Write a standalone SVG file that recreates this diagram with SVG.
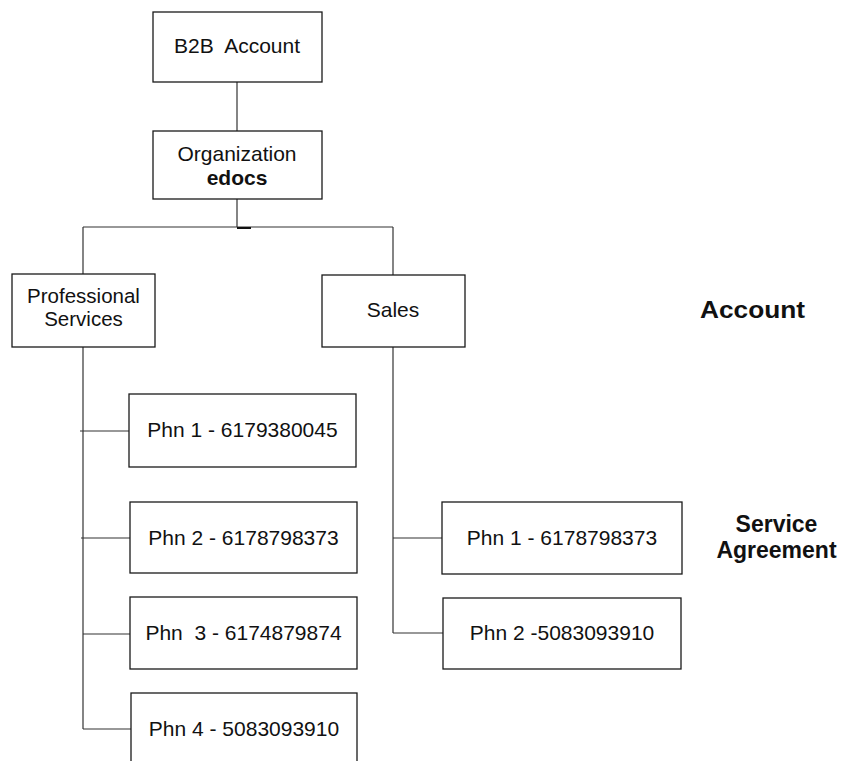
<svg xmlns="http://www.w3.org/2000/svg" width="843" height="761" viewBox="0 0 843 761">
<style>
.box{fill:#fff;stroke:#1a1a1a;stroke-width:1.3}
.ln{stroke:#333;stroke-width:1.2;fill:none}
text{font-family:"Liberation Sans",Arial,sans-serif;font-size:21px;fill:#111;text-anchor:middle;white-space:pre}
.b{font-weight:bold}
</style>
<rect width="843" height="761" fill="#fff"/>
<g id="connectors">
<line class="ln" x1="237" y1="82" x2="237" y2="131"/>
<line class="ln" x1="237" y1="199" x2="237" y2="227"/>
<line class="ln" x1="83" y1="227" x2="393" y2="227"/>
<line x1="237" y1="228" x2="251" y2="228" stroke="#111" stroke-width="2"/>
<line class="ln" x1="83" y1="227" x2="83" y2="274"/>
<line class="ln" x1="393" y1="227" x2="393" y2="275"/>
<line class="ln" x1="83" y1="347" x2="83" y2="729"/>
<line class="ln" x1="80" y1="431" x2="129" y2="431"/>
<line class="ln" x1="81" y1="538" x2="130" y2="538"/>
<line class="ln" x1="83" y1="634" x2="130" y2="634"/>
<line class="ln" x1="83" y1="729" x2="131" y2="729"/>
<line class="ln" x1="393" y1="347" x2="393" y2="633"/>
<line class="ln" x1="393" y1="538" x2="442" y2="538"/>
<line class="ln" x1="393" y1="633" x2="443" y2="633"/>
</g>
<g id="b2b">
<rect class="box" x="153" y="12" width="169" height="70"/>
<text x="237" y="53">B2B  Account</text>
</g>
<g id="org">
<rect class="box" x="153" y="131" width="169" height="68"/>
<text x="237" y="161">Organization</text>
<text class="b" x="237" y="185">edocs</text>
</g>
<g id="prof">
<rect class="box" x="12" y="274" width="143" height="73"/>
<text x="83.5" y="303" style="font-size:20.5px">Professional</text>
<text x="83.5" y="326" style="font-size:20.5px">Services</text>
</g>
<g id="sales">
<rect class="box" x="322" y="275" width="143" height="72"/>
<text x="393" y="317">Sales</text>
</g>
<g id="ps-phn1">
<rect class="box" x="129" y="394" width="227" height="73"/>
<text x="242.5" y="437">Phn 1 - 6179380045</text>
</g>
<g id="ps-phn2">
<rect class="box" x="130" y="502" width="227" height="71"/>
<text x="243.5" y="545">Phn 2 - 6178798373</text>
</g>
<g id="ps-phn3">
<rect class="box" x="130" y="597" width="227" height="72"/>
<text x="243.5" y="640">Phn  3 - 6174879874</text>
</g>
<g id="ps-phn4">
<rect class="box" x="131" y="693" width="226" height="72"/>
<text x="244" y="736">Phn 4 - 5083093910</text>
</g>
<g id="s-phn1">
<rect class="box" x="442" y="502" width="240" height="72"/>
<text x="562" y="545">Phn 1 - 6178798373</text>
</g>
<g id="s-phn2">
<rect class="box" x="443" y="598" width="238" height="71"/>
<text x="562" y="640">Phn 2 -5083093910</text>
</g>
<g id="label-account">
<text class="b" x="752.5" y="318" style="font-size:24px" textLength="105" lengthAdjust="spacingAndGlyphs">Account</text>
</g>
<g id="label-sa">
<text class="b" x="776.5" y="532" style="font-size:23px">Service</text>
<text class="b" x="776.5" y="558" style="font-size:23px">Agreement</text>
</g>
</svg>
